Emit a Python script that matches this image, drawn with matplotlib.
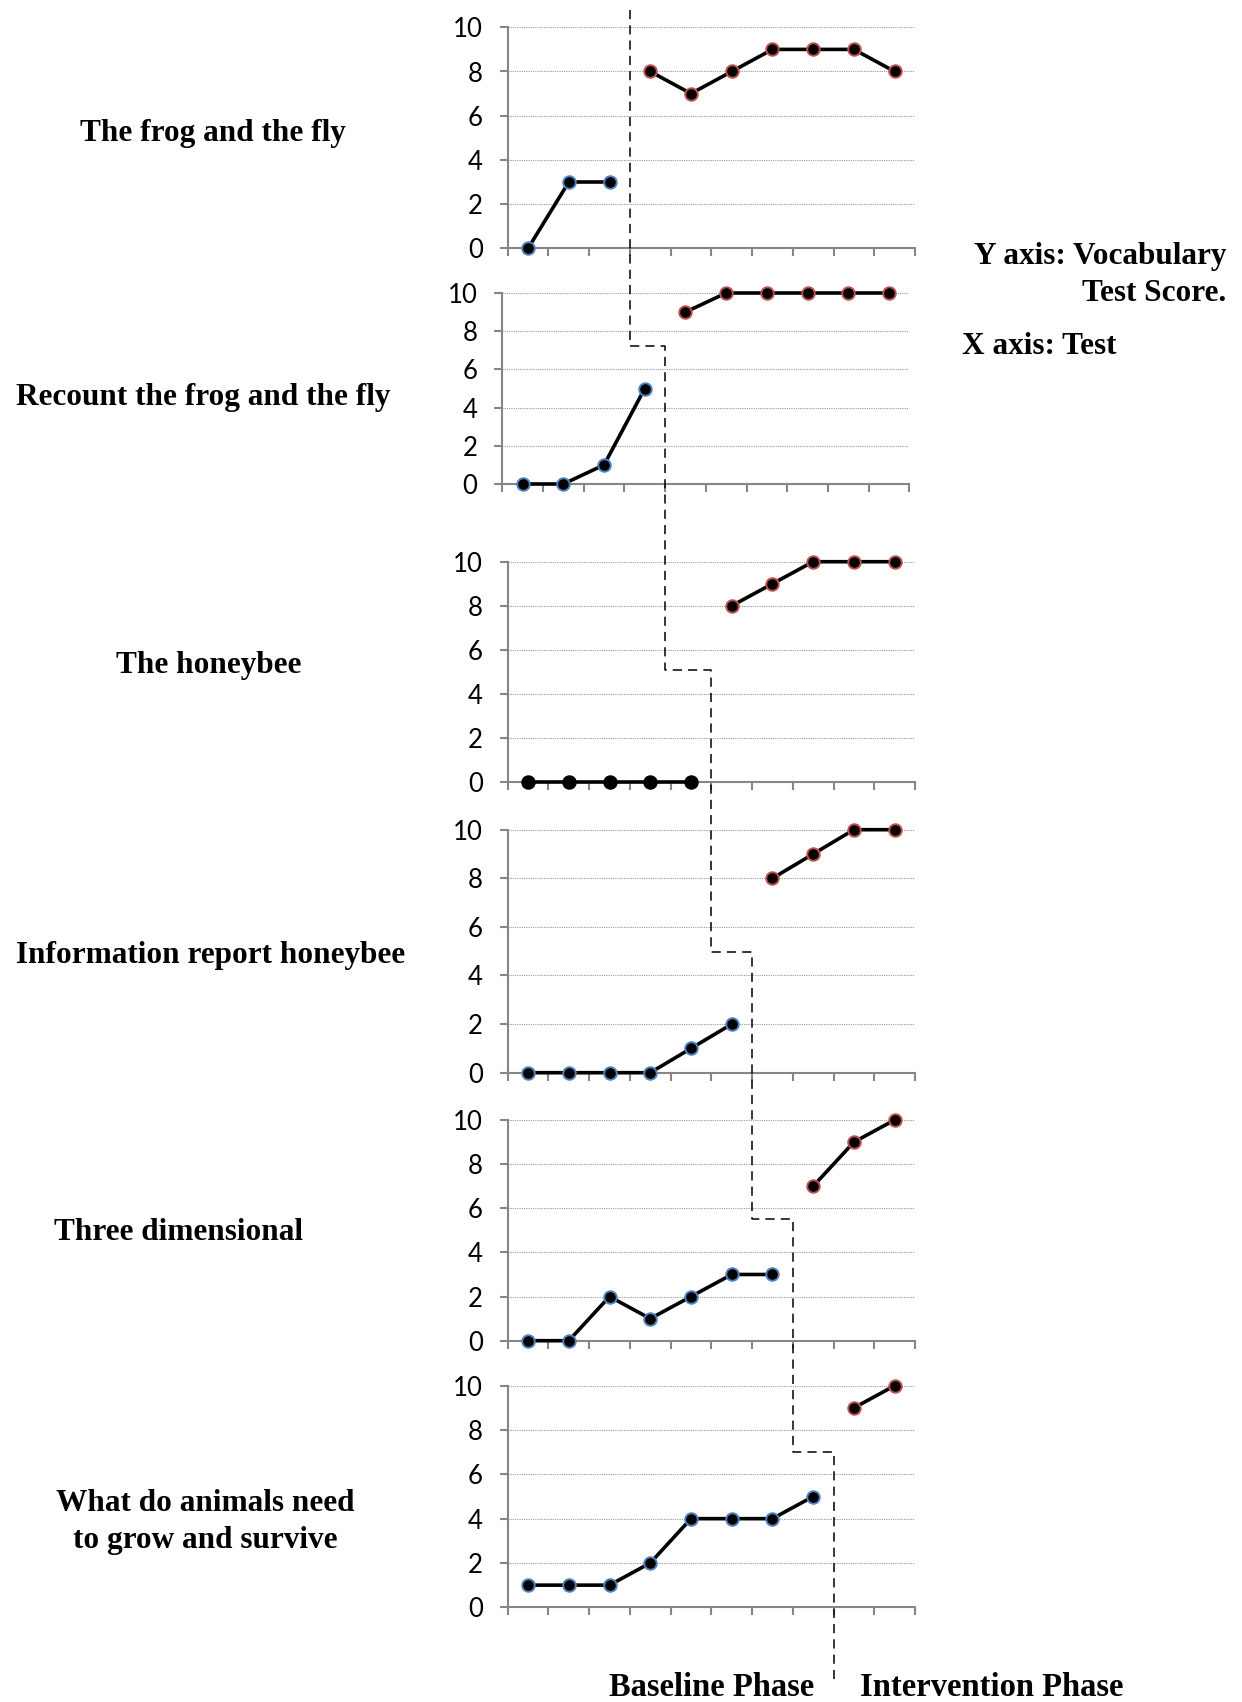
import matplotlib
matplotlib.use('Agg')
import matplotlib.pyplot as plt
from matplotlib.lines import Line2D

# Scores per story: baseline tests first, then intervention tests
stories = ['The frog and the fly',
           'Recount the frog and the fly',
           'The honeybee',
           'Information report honeybee',
           'Three dimensional',
           'What do animals need\nto grow and survive']
baseline = [[0, 3, 3],
            [0, 0, 1, 5],
            [0, 0, 0, 0, 0],
            [0, 0, 0, 0, 1, 2],
            [0, 0, 2, 1, 2, 3, 3],
            [1, 1, 1, 2, 4, 4, 4, 5]]
intervention = [[8, 7, 8, 9, 9, 9, 8],
                [9, 10, 10, 10, 10, 10],
                [8, 9, 10, 10, 10],
                [8, 9, 10, 10],
                [7, 9, 10],
                [9, 10]]
# height (in score units) where the phase line steps over in each panel
step_level = [None, 7.25, 5.1, 4.95, 5.5, 7.0]
n_tests = 10
yticks = [0, 2, 4, 6, 8, 10]

W, H = 1242, 1702
fig = plt.figure(figsize=(W / 100, H / 100), dpi=100)

def fx(px):
    return px / W

def fy(py):
    return 1 - py / H

# panel boxes in pixels: left, right, top(y=10), bottom(y=0)
boxes = [(507.7, 915, 27.3, 248.3),
         (502.3, 909.3, 293, 484),
         (507.7, 915, 561.7, 782.3),
         (507.7, 915, 829.7, 1072.7),
         (507.7, 915, 1120, 1340.7),
         (507.7, 915, 1385.7, 1607.3)]
label_pos = [(213, 133), (203, 398), (209, 666), (211, 956), (178, 1233), (205, 1522)]

axis_col = '#868686'
blue_edge = '#4f81bd'
red_edge = '#c0504d'

axes = []
for i, (l, r, t, b) in enumerate(boxes):
    ax = fig.add_axes([fx(l), fy(b), fx(r - l), (b - t) / H])
    ax.set_xlim(0, n_tests)
    ax.set_ylim(0, 10)
    for s in ['top', 'right']:
        ax.spines[s].set_visible(False)
    for s in ['left', 'bottom']:
        ax.spines[s].set_color(axis_col)
        ax.spines[s].set_linewidth(1.5)
    ax.set_yticks(yticks)
    ax.set_xticks(range(n_tests + 1))
    ax.set_xticklabels([])
    ax.tick_params(axis='both', color=axis_col, width=1.5, length=6, direction='out')
    ax.tick_params(axis='y', labelsize=18.5, pad=12)
    for lab in ax.get_yticklabels():
        lab.set_fontfamily('Lato')
    for g in yticks[1:]:
        ax.axhline(g, color='#9a9a9a', linewidth=0.8, linestyle=(0, (1, 1)), zorder=1)

    nb = len(baseline[i])
    xb = [k + 0.5 for k in range(nb)]
    xi = [nb + k + 0.5 for k in range(len(intervention[i]))]
    b_edge = 'black' if max(baseline[i]) == 0 else blue_edge
    ax.plot(xb, baseline[i], color='black', linewidth=2.6, marker='o', markersize=9,
            markerfacecolor='black', markeredgecolor=b_edge, markeredgewidth=1.4,
            clip_on=False, zorder=3)
    ax.plot(xi, intervention[i], color='black', linewidth=2.6, marker='o', markersize=9,
            markerfacecolor='black', markeredgecolor=red_edge, markeredgewidth=1.4,
            clip_on=False, zorder=3)

    lx, ly = label_pos[i]
    fig.text(fx(lx), fy(ly), stories[i], ha='center', va='center', fontsize=22.5,
             fontweight='bold', family='Liberation Serif', linespacing=1.35)
    axes.append(ax)

# phase change line running through all panels
to_fig = fig.transFigure.inverted()

def data_to_fig(ax, x, y):
    return to_fig.transform(ax.transData.transform((x, y)))

xs, ys = [], []
x0 = data_to_fig(axes[0], len(baseline[0]), 0)[0]
xs.append(x0)
ys.append(fy(10))
for i in range(1, len(axes)):
    prev_x = data_to_fig(axes[i - 1], len(baseline[i - 1]), 0)[0]
    _, sy = data_to_fig(axes[i], 0, step_level[i])
    new_x = data_to_fig(axes[i], len(baseline[i]), 0)[0]
    xs += [prev_x, new_x]
    ys += [sy, sy]
xs.append(xs[-1])
ys.append(fy(1680))
fig.add_artist(Line2D(xs, ys, transform=fig.transFigure, color='black',
                      linewidth=1.1, linestyle=(0, (6, 4))))

# side and bottom notes
fig.text(fx(1226), fy(275), 'Y axis: Vocabulary\nTest Score.', ha='right', va='center',
         multialignment='right', fontsize=22.5, fontweight='bold',
         family='Liberation Serif', linespacing=1.4)
fig.text(fx(962), fy(346), 'X axis: Test', ha='left', va='center', fontsize=22.5,
         fontweight='bold', family='Liberation Serif')
fig.text(fx(712), fy(1687), 'Baseline Phase', ha='center', va='center', fontsize=23.5,
         fontweight='bold', family='Liberation Serif')
fig.text(fx(992), fy(1687), 'Intervention Phase', ha='center', va='center', fontsize=23.5,
         fontweight='bold', family='Liberation Serif')

fig.savefig('out.png', dpi=100)
